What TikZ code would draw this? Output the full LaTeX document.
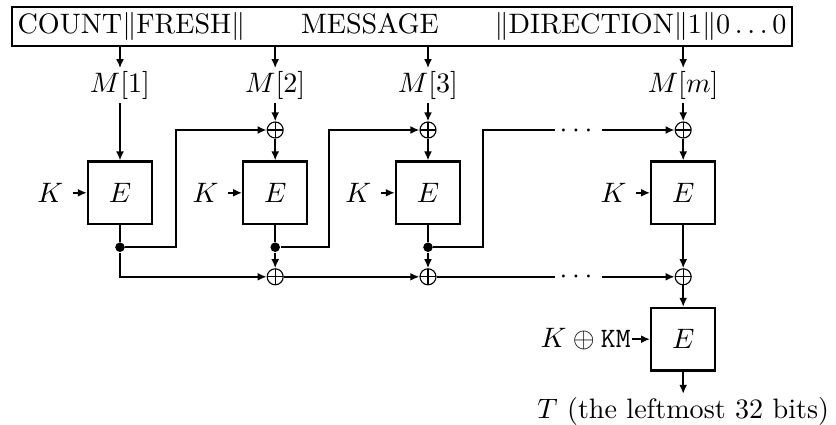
\documentclass[tikz,border=0pt]{standalone}
\usepackage{amsmath}
\usepackage{amssymb}
\usetikzlibrary{arrows.meta, positioning}

\begin{document}
\begin{tikzpicture}[
            box/.style={draw, line width=0.8pt, minimum width=0.8cm, minimum height=0.78cm, inner sep=0pt},
            xor/.style={draw, circle, thin, inner sep=0pt, minimum size=0.2cm,
                path picture={\draw[thin] (path picture bounding box.north) -- (path picture bounding box.south)
                    (path picture bounding box.west) -- (path picture bounding box.east);}},
            junction/.style={circle, fill, inner sep=0pt, minimum size=3.4pt},
            lbl/.style={inner sep=1pt},
            gap/.style={inner sep=1.5pt, text height=5pt, text depth=0pt},
            wire/.style={line width=0.9pt},
            flow/.style={line width=0.9pt, -{Latex[length=3.2pt,width=2.8pt]}}
        ]
            \useasboundingbox (0,0) rectangle (10.45,-5.3125);

            % message block
            \node[draw, line width=0.8pt, minimum height=0.49cm, text width=9.61cm, inner sep=2pt] (msg) at (5.025,-0.33)
                {COUNT$\|$FRESH$\|$\hfill MESSAGE\hfill$\|$DIRECTION$\|1\|0\ldots0$};

            % blocks M[i]
            \node[lbl] (m1) at (1.5,-1.07) {$M[1]$};
            \node[lbl] (m2) at (3.44,-1.07) {$M[2]$};
            \node[lbl] (m3) at (5.35,-1.07) {$M[3]$};
            \node[lbl] (m4) at (8.54,-1.07) {$M[m]$};

            % upper xors
            \node[xor] (xt2) at (3.44,-1.625) {};
            \node[xor] (xt3) at (5.35,-1.625) {};
            \node[xor] (xt4) at (8.54,-1.625) {};
            \node[gap] (dt) at (7.23,-1.625) {$\cdots$};

            % encryptions
            \node[box] (e1) at (1.5,-2.41) {$E$};
            \node[box] (e2) at (3.44,-2.41) {$E$};
            \node[box] (e3) at (5.35,-2.41) {$E$};
            \node[box] (e4) at (8.54,-2.41) {$E$};
            \node[left=0.17cm of e1] (k1) {$K$};
            \node[left=0.17cm of e2] (k2) {$K$};
            \node[left=0.17cm of e3] (k3) {$K$};
            \node[left=0.17cm of e4] (k4) {$K$};

            % branch points
            \node[junction] (j1) at (1.5,-3.09) {};
            \node[junction] (j2) at (3.44,-3.09) {};
            \node[junction] (j3) at (5.35,-3.09) {};
            \coordinate (f1) at (2.2,-1.625);
            \coordinate (f2) at (4.11,-1.625);
            \coordinate (f3) at (6.04,-1.625);

            % lower xors
            \node[xor] (xb2) at (3.44,-3.46) {};
            \node[xor] (xb3) at (5.35,-3.46) {};
            \node[xor] (xb4) at (8.54,-3.46) {};
            \node[gap] (db) at (7.23,-3.46) {$\cdots$};

            % final encryption
            \node[box] (e5) at (8.54,-4.24) {$E$};
            \node[left=0.22cm of e5, inner sep=0.5pt] (k5) {$K \oplus \texttt{KM}$};
            \node[below=0.28cm of e5, inner sep=1pt] (tag) {$T$ (the leftmost 32 bits)};

            % message to blocks
            \draw[flow] (msg.south -| m1) -- (m1);
            \draw[flow] (msg.south -| m2) -- (m2);
            \draw[flow] (msg.south -| m3) -- (m3);
            \draw[flow] (msg.south -| m4) -- (m4);
            \draw[flow] (m1) -- (e1);
            \draw[flow] (m2) -- (xt2);
            \draw[flow] (m3) -- (xt3);
            \draw[flow] (m4) -- (xt4);
            \draw[flow] (xt2) -- (e2);
            \draw[flow] (xt3) -- (e3);
            \draw[flow] (xt4) -- (e4);

            % keys
            \draw[flow] (k1) -- (e1);
            \draw[flow] (k2) -- (e2);
            \draw[flow] (k3) -- (e3);
            \draw[flow] (k4) -- (e4);
            \draw[flow] (k5) -- (e5);

            % chaining
            \draw[wire] (e1) -- (j1);
            \draw[wire] (e2) -- (j2);
            \draw[wire] (e3) -- (j3);
            \draw[flow] (j1) -| (f1) -- (xt2);
            \draw[flow] (j2) -| (f2) -- (xt3);
            \draw[wire] (j3) -| (f3) -- (dt);
            \draw[flow] (dt) -- (xt4);

            % sum of outputs
            \draw[flow] (j1) |- (xb2);
            \draw[flow] (j2) -- (xb2);
            \draw[flow] (j3) -- (xb3);
            \draw[flow] (xb2) -- (xb3);
            \draw[wire] (xb3) -- (db);
            \draw[flow] (db) -- (xb4);
            \draw[flow] (e4) -- (xb4);
            \draw[flow] (xb4) -- (e5);
            \draw[flow] (e5) -- (tag);
        \end{tikzpicture}
\end{document}
